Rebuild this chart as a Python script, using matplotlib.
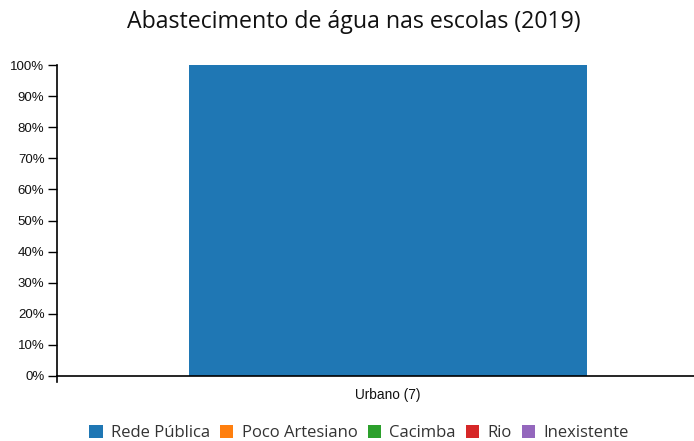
import matplotlib
matplotlib.use("Agg")
import matplotlib.pyplot as plt
from matplotlib.patches import Patch
import numpy as np

categories = ["Urbano (7)"]
series_names = ["Rede Pública", "Poco Artesiano", "Cacimba", "Rio", "Inexistente"]
series_values = [[1.0], [0.0], [0.0], [0.0], [0.0]]
colors = ["#1f77b4", "#ff7f0e", "#2ca02c", "#d62728", "#9467bd"]
yticks = [0, 0.1, 0.2, 0.3, 0.4, 0.5, 0.6, 0.7, 0.8, 0.9, 1.0]
ytick_labels = ["0%", "10%", "20%", "30%", "40%", "50%", "60%", "70%", "80%", "90%", "100%"]
title = "Abastecimento de água nas escolas (2019)"

W, H = 694, 441
fig = plt.figure(figsize=(W / 100, H / 100), dpi=100)
ax = fig.add_axes([57 / W, (H - 376) / H, (719 - 57) / W, (376 - 65) / H])

x = np.arange(len(categories))
bottom = np.zeros(len(categories))
for name, vals, c in zip(series_names, series_values, colors):
    ax.bar(x, vals, width=0.6, bottom=bottom, color=c, label=name)
    bottom += np.array(vals)

ax.set_xlim(-0.5, 0.5)
ax.set_ylim(0, 1)
ax.set_yticks(yticks)
ax.set_yticklabels(ytick_labels, fontsize=9.5, family="Liberation Sans", color="#111111")
ax.set_xticks(x)
ax.set_xticklabels(categories, fontsize=9.8, family="Liberation Sans", color="#111111")
ax.tick_params(axis="x", length=0, pad=9)
ax.tick_params(axis="y", length=6.5, width=1, pad=2.5)
for s in ["top", "right"]:
    ax.spines[s].set_visible(False)
ax.spines["left"].set_linewidth(1.2)
ax.spines["bottom"].set_linewidth(1.2)
ax.plot([0, 0], [0, -0.02], transform=ax.get_yaxis_transform(), color="black",
        lw=1.2, clip_on=False)

fig.text(354 / W, 1 - 22 / H, title, ha="center", va="center", fontsize=16.7,
         family="Open Sans", color="#111111")

handles = [Patch(facecolor=c, edgecolor="none") for c in colors]
leg = fig.legend(handles, series_names, loc="center", bbox_to_anchor=(359 / W, 1 - 433 / H),
                 ncol=5, frameon=False, handlelength=0.8, handleheight=0.8,
                 handletextpad=0.5, columnspacing=0.6, prop={"family": "Open Sans", "size": 12})
for t in leg.get_texts():
    t.set_color("#333333")

fig.savefig("out.png", dpi=100)
